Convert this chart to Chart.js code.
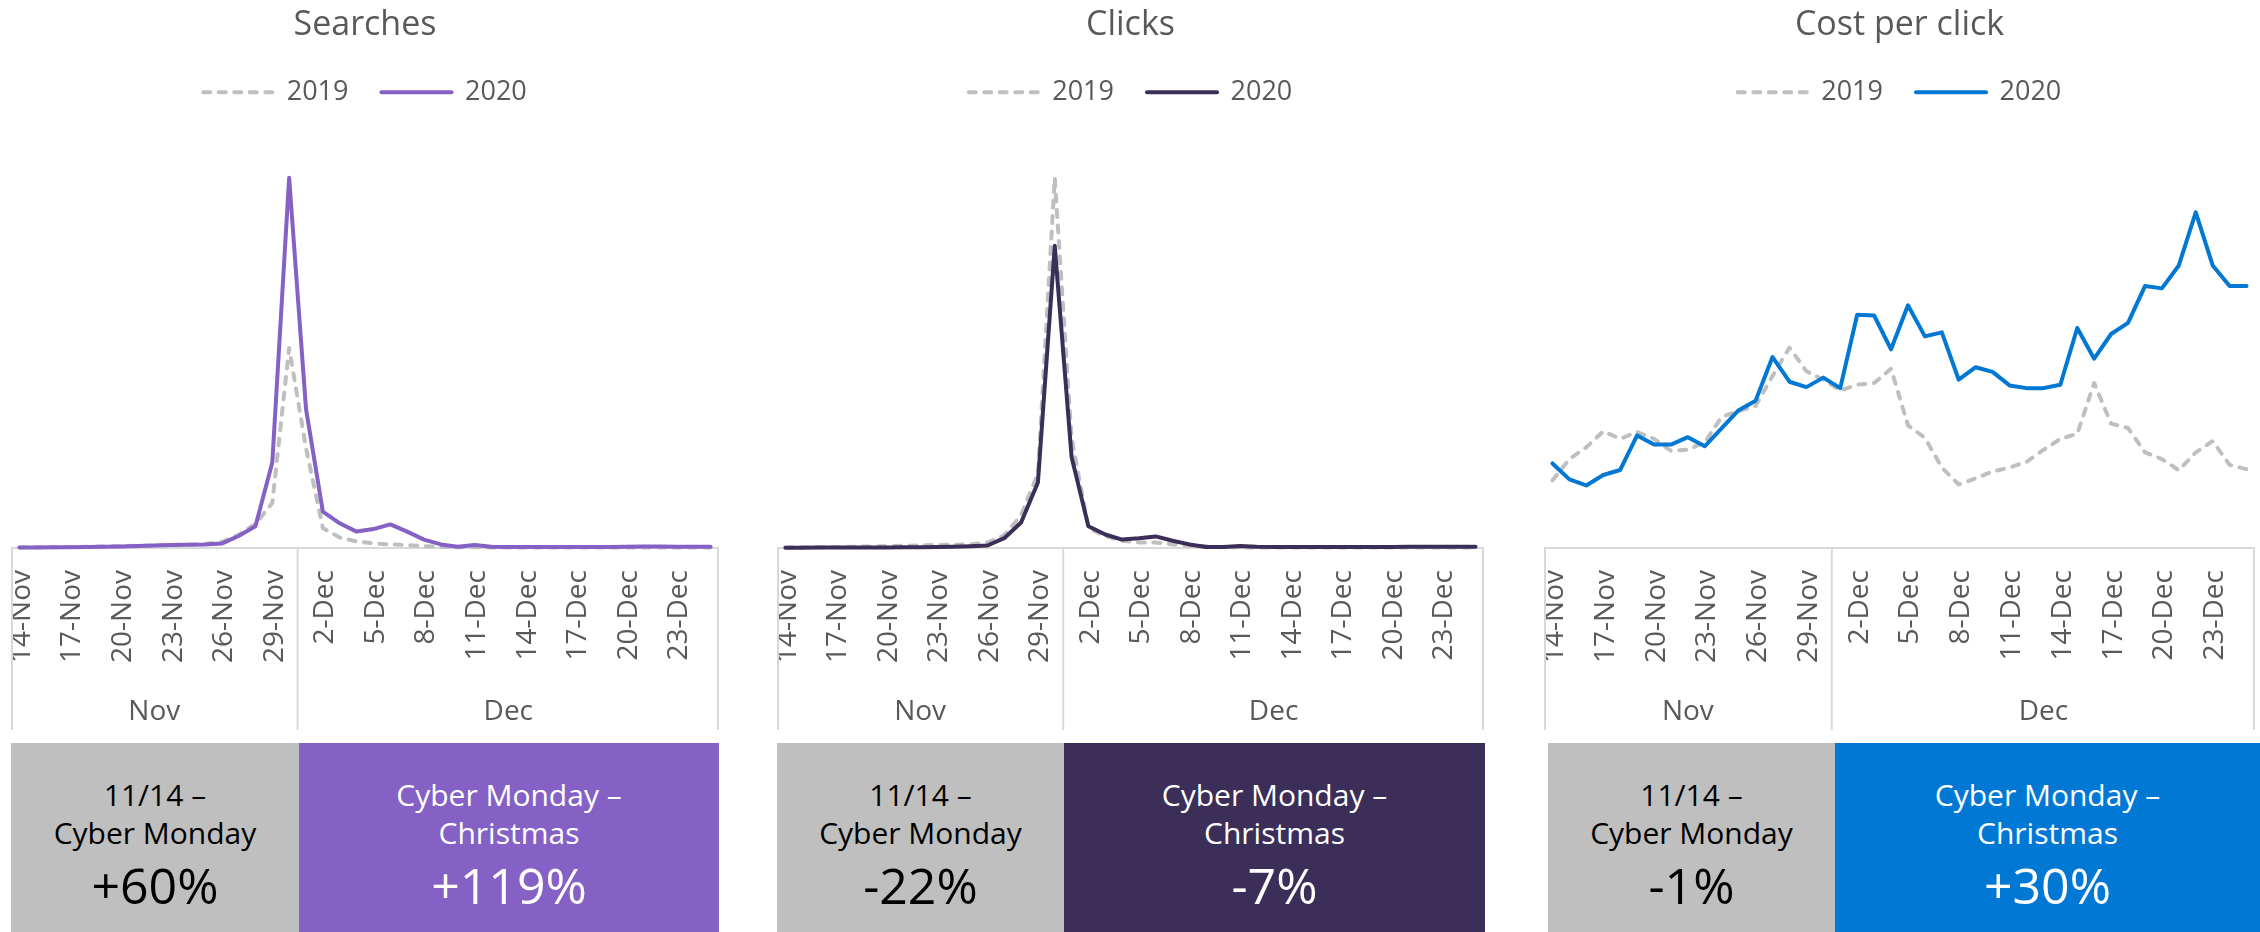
<!DOCTYPE html>
<html>
<head>
<meta charset="utf-8">
<script src="https://cdn.jsdelivr.net/npm/chart.js@4.4.1/dist/chart.umd.min.js"></script>
<style>
  body { margin: 0; width: 2260px; height: 932px; overflow: hidden; background: #fff; font-family: 'Open Sans', sans-serif; }
  canvas { position: absolute; top: 0; }
  .box { position: absolute; top: 743px; height: 189px; text-align: center; box-sizing: border-box; padding-top: 33px; color: #fff; }
  .box .t { font-size: 30px; line-height: 38px; }
  .box .v { font-size: 50px; line-height: 52px; margin-top: 7px; }
  .grey { background: #bfbfbf; color: #000; }
</style>
</head>
<body>
<canvas id="searchChart" width="708" height="732" style="left:11px"></canvas>
<canvas id="clickChart" width="707" height="732" style="left:777px"></canvas>
<canvas id="cpcChart" width="711" height="732" style="left:1544px"></canvas>

<div class="box grey" style="left:11px;width:288px"><div class="t">11/14 –</div><div class="t">Cyber Monday</div><div class="v">+60%</div></div>
<div class="box" style="left:299px;width:420px;background:#8661c5"><div class="t">Cyber Monday –</div><div class="t">Christmas</div><div class="v">+119%</div></div>
<div class="box grey" style="left:777px;width:287px"><div class="t">11/14 –</div><div class="t">Cyber Monday</div><div class="v">-22%</div></div>
<div class="box" style="left:1064px;width:421px;background:#3b2e58"><div class="t">Cyber Monday –</div><div class="t">Christmas</div><div class="v">-7%</div></div>
<div class="box grey" style="left:1548px;width:287px"><div class="t">11/14 –</div><div class="t">Cyber Monday</div><div class="v">-1%</div></div>
<div class="box" style="left:1835px;width:425px;background:#0078d4"><div class="t">Cyber Monday –</div><div class="t">Christmas</div><div class="v">+30%</div></div>

<script>
// 日期（11/14 – 12/25）
const dates = [
  '14-Nov','15-Nov','16-Nov','17-Nov','18-Nov','19-Nov','20-Nov','21-Nov','22-Nov','23-Nov',
  '24-Nov','25-Nov','26-Nov','27-Nov','28-Nov','29-Nov','30-Nov',
  '1-Dec','2-Dec','3-Dec','4-Dec','5-Dec','6-Dec','7-Dec','8-Dec','9-Dec','10-Dec',
  '11-Dec','12-Dec','13-Dec','14-Dec','15-Dec','16-Dec','17-Dec','18-Dec','19-Dec','20-Dec',
  '21-Dec','22-Dec','23-Dec','24-Dec','25-Dec'
];
const months = ['Nov', 'Dec'];
const legendNames = ['2019', '2020'];

// 各指標（相對值，無刻度）
const searches2019 = [0.6,0.7,0.8,1.0,1.2,1.5,1.8,2.2,2.6,3.0,3.5,4.0,6,13,24,45,200,100,20,10.5,6.5,4.7,3.6,2.9,1.8,1.1,0.8,0.7,0.6,0.6,0.5,0.5,0.5,0.5,0.5,0.5,0.5,0.5,0.4,0.4,0.4,0.4];
const searches2020 = [0.5,0.6,0.7,0.8,1.0,1.3,1.6,2.0,2.5,3.0,3.2,3.5,4.4,12,21.8,85.5,370,139,36.4,24.7,16.4,18.9,23.6,16.4,8.4,3.6,1.2,3.0,1.2,1.0,1.0,1.0,0.9,0.9,0.9,1.0,1.2,1.6,1.5,1.2,1.2,1.2];
const clicks2019 = [0.6,0.7,0.8,1.0,1.2,1.5,1.8,2.2,2.6,3.0,3.3,3.6,5.5,12.7,32.7,74.5,370,110,20,12,7.3,5.5,5.5,3.6,2.5,1.8,0.8,0.6,0.5,0.5,0.5,0.5,0.5,0.5,0.5,0.5,0.5,0.5,0.5,0.5,0.5,0.5];
const clicks2020 = [0.3,0.3,0.4,0.4,0.5,0.5,0.6,0.7,0.8,1.0,1.3,1.8,2.5,9.8,25.5,65.5,302,91,21.8,13.5,8.4,9.8,11.6,7.3,3.6,1.1,1.1,2.1,1.2,1.1,1.1,1.1,1.0,1.0,1.0,1.0,1.1,1.2,1.3,1.3,1.3,1.3];
const cpc2019 = [67.6,88.9,100.7,116.6,109.1,115.9,109.1,97.3,98.3,105.7,131.1,136.8,141.9,172,200.3,176.7,168.2,157.4,163.2,164.9,179.1,122.6,110.1,80.4,63.5,69.6,76.4,80.4,86.1,98.0,109.1,114.2,164.9,124.3,119.9,95.6,88.9,77.7,95.6,106.8,83.1,78.7];
const cpc2020 = [84.5,68.6,62.5,73.0,78.0,112.5,103.4,103.4,110.8,101.7,119.9,137.8,147.3,190.9,166.2,160.8,170.3,159.8,233.1,232.4,198.6,242.6,211.5,215.5,168.2,180.7,176.0,162.5,159.8,159.8,163.2,219.9,189.2,213.9,225.0,261.8,259.5,282.4,335.5,282.4,261.8,261.8];

Chart.defaults.font.family = "'Open Sans', sans-serif";
Chart.defaults.color = '#595959';

// 月份分隔線與月份標籤
const monthAxis = {
  id: 'monthAxis',
  beforeDatasetsDraw(chart) {
    const x = chart.scales.x;
    const ctx = chart.ctx;
    const top = x.top;
    const bottom = chart.height - 2;
    const firstDec = dates.findIndex(d => d.endsWith('Dec'));
    const sep = (x.getPixelForValue(firstDec - 1) + x.getPixelForValue(firstDec)) / 2;
    ctx.save();
    ctx.strokeStyle = '#d9d9d9';
    ctx.lineWidth = 2;
    ctx.beginPath();
    ctx.moveTo(x.left, top);
    ctx.lineTo(x.right, top);
    for (const px of [x.left + 1, sep, x.right - 1]) {
      ctx.moveTo(px, top);
      ctx.lineTo(px, bottom);
    }
    ctx.stroke();
    ctx.fillStyle = '#595959';
    ctx.font = "28px 'Open Sans'";
    ctx.textAlign = 'center';
    ctx.textBaseline = 'middle';
    ctx.fillText(months[0], (x.left + sep) / 2, top + 164);
    ctx.fillText(months[1], (sep + x.right) / 2, top + 164);
    ctx.restore();
  }
};

// 圖例：以資料集的線條樣式畫短線
function lineLegend(chart) {
  return chart.data.datasets.map((ds, i) => ({
    text: ds.label,
    strokeStyle: ds.borderColor,
    fillStyle: ds.borderColor,
    fontColor: '#595959',
    lineWidth: ds.borderWidth,
    lineDash: ds.borderDash || [],
    lineCap: ds.borderCapStyle,
    pointStyle: 'line',
    hidden: false,
    datasetIndex: i
  }));
}

function drawLineChart(canvasId, title, color, s2019, s2020) {
  const ctx = document.getElementById(canvasId).getContext('2d');
  new Chart(ctx, {
    type: 'line',
    data: {
      labels: dates,
      datasets: [
        { label: legendNames[0], data: s2019, borderColor: '#bfbfbf', borderWidth: 4, borderDash: [7, 8.5],
          borderCapStyle: 'round', borderJoinStyle: 'round', pointRadius: 0, tension: 0, clip: false, order: 1 },
        { label: legendNames[1], data: s2020, borderColor: color, borderWidth: 4,
          borderCapStyle: 'round', borderJoinStyle: 'round', pointRadius: 0, tension: 0, clip: false, order: 0 }
      ]
    },
    options: {
      responsive: false,
      animation: false,
      layout: { padding: 0 },
      plugins: {
        title: { display: true, text: title, color: '#595959', font: { size: 34, weight: 'normal' }, padding: { top: 5, bottom: 0 } },
        legend: {
          labels: {
            usePointStyle: true, pointStyleWidth: 70,
            font: { size: 27 }, color: '#595959', padding: 33,
            generateLabels: lineLegend
          }
        },
        tooltip: { enabled: false }
      },
      scales: {
        x: {
          offset: true,
          grid: { display: false },
          border: { display: false },
          ticks: {
            autoSkip: false, minRotation: 90, maxRotation: 90, padding: 14, labelOffset: 2.5,
            font: { size: 28 }, color: '#595959',
            callback: (v, i) => (i % 3 === 0 ? dates[i] : '')
          },
          afterFit(scale) {
            scale.paddingLeft = 0;
            scale.paddingRight = 0;
            scale.height = 184;
          }
        },
        y: { display: false, min: 0, max: 432 }
      }
    },
    plugins: [monthAxis]
  });
}

function main() {
  drawLineChart('searchChart', 'Searches', '#8661c5', searches2019, searches2020);
  drawLineChart('clickChart', 'Clicks', '#3b2e58', clicks2019, clicks2020);
  drawLineChart('cpcChart', 'Cost per click', '#0078d4', cpc2019, cpc2020);
}

main();
</script>
</body>
</html>
